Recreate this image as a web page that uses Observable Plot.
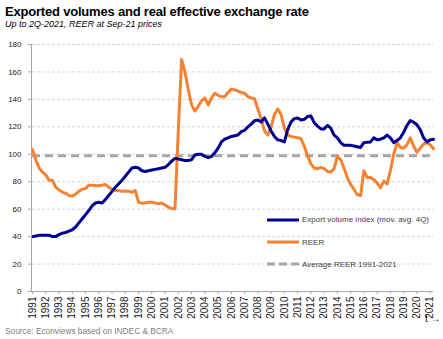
<!DOCTYPE html>
<html><head><meta charset="utf-8">
<script src="https://cdn.jsdelivr.net/npm/d3@7"></script>
<script src="https://cdn.jsdelivr.net/npm/@observablehq/plot@0.6"></script>
<style>
body{margin:0;width:443px;height:339px;background:#fff;font-family:"Liberation Sans",Arial,sans-serif;position:relative;overflow:hidden}
#title{position:absolute;left:5px;top:4px;font-size:13px;font-weight:bold;color:#000;white-space:nowrap;letter-spacing:-0.2px}
#subtitle{position:absolute;left:5px;top:19px;font-size:9px;font-style:italic;color:#000;white-space:nowrap}
#chart{position:absolute;left:0;top:34px}
#source{position:absolute;left:5px;top:326px;font-size:8.3px;color:#808080;white-space:nowrap}
.leg{position:absolute;left:267px;height:12px;font-size:8px;color:#404040;white-space:nowrap;display:flex;align-items:center}
.leg svg{margin-right:3px}
</style></head>
<body>
<div id="title">Exported volumes and real effective exchange rate</div>
<div id="subtitle">Up to 2Q-2021, REER at Sep-21 prices</div>
<div id="chart"></div>
<div id="legend"></div>
<div id="source">Source: Econviews based on INDEC &amp; BCRA</div>
<script>
const startYear = 1991;
const yearTicks = d3.range(1991, 2022);
const yTicks = [0, 20, 40, 60, 80, 100, 120, 140, 160, 180];
const avgReer = 99;

const exportVolume = [
 40, 40.5, 41, 41,
 41, 41, 40, 40,
 41.5, 42.5, 43, 44,
 45, 47, 50, 53,
 56, 59, 62.5, 64.5,
 65, 64.5, 67, 70,
 73, 76, 78.5, 81,
 84, 87, 90, 90.5,
 90, 88, 87.5, 88,
 88.5, 89, 89.5, 90,
 90.5, 92.5, 95, 97,
 96.5, 96, 95.5, 95.5,
 96, 99.5, 100, 100,
 98.5, 97.5, 98.5, 101,
 104.5, 109, 111, 112,
 113, 113.5, 114, 116.5,
 117.5, 120, 122, 124.5,
 125, 123.5, 126.5, 122,
 117, 113, 110.5, 110,
 109, 118, 123.5, 126,
 126.5, 125, 125.5, 127.5,
 128, 123, 120.5, 118.5,
 118.5, 121, 119, 114,
 112, 108.5, 106.5, 106.5,
 106.5, 106, 105.5, 105,
 108.5, 108.8, 109, 112,
 110.5, 111, 112, 114,
 112, 108.5, 110, 112,
 116, 121, 124.5, 123.5,
 121.5, 118, 112, 109,
 110.5, 111
];

const reer = [
 103.5, 96, 90, 87,
 85, 81, 81, 76,
 74, 72.5, 71.5, 70,
 69.5, 71, 73, 74.5,
 75, 77.5, 77.5, 77.2,
 77, 77.5, 78, 76,
 74.5, 73.8, 73.5, 73,
 73.2, 73, 72.4, 73.6,
 65, 64.4, 64.5, 65,
 65, 64.5, 64, 64.5,
 63, 61.5, 60.5, 60.3,
 118, 169, 160, 147,
 136, 131.5, 135, 139,
 141, 136, 141, 144.5,
 143, 142, 142, 145,
 147.5, 147, 146, 145,
 144.5, 142, 141, 140.5,
 133, 126, 117, 114,
 120, 129, 133, 129,
 119, 114, 113, 112.5,
 112, 111.5, 106, 99,
 93, 90, 89.5, 90.5,
 89.5, 87.5, 87, 89.5,
 98.5, 96, 90, 83,
 78, 74.5, 70.5, 70,
 88, 83, 83, 81.5,
 79, 75.5, 80.5, 78.5,
 88, 100, 108.5, 105,
 104.5, 107, 112, 106,
 101.5, 104.5, 107.5, 108.5,
 107, 104
];

const seriesNames = ["Export volume index (mov. avg. 4Q)", "REER", "Average REER 1991-2021"];
const seriesColors = ["#000090", "#f58233", "#a6a6a6"];

const data = exportVolume.map((v, i) => ({t: startYear + i / 4, exp: v, reer: reer[i]}));
const endT = startYear + (exportVolume.length - 1) / 4;

const chart = Plot.plot({
  width: 443, height: 290,
  marginLeft: 32, marginRight: 10, marginTop: 10, marginBottom: 33,
  style: {fontFamily: "'Liberation Sans', Arial, sans-serif", color: "#222", background: "transparent"},
  x: {domain: [startYear, endT], axis: null},
  y: {domain: [0, 180], axis: null},
  marks: [
    Plot.ruleY(yTicks.filter(d => d > 0), {stroke: "#d4d4d4", strokeWidth: 1, strokeDasharray: "3,2"}),
    Plot.ruleY([avgReer], {stroke: seriesColors[2], strokeWidth: 3, strokeDasharray: "8,5"}),
    Plot.line(data, {x: "t", y: "reer", stroke: seriesColors[1], strokeWidth: 3, strokeLinejoin: "round"}),
    Plot.line(data, {x: "t", y: "exp", stroke: seriesColors[0], strokeWidth: 3, strokeLinejoin: "round"}),
    Plot.ruleY([0], {stroke: "#a6a6a6", strokeWidth: 1}),
    Plot.ruleX([startYear], {stroke: "#a6a6a6", strokeWidth: 1, dx: -1}),
    Plot.axisY({ticks: yTicks, tickSize: 4, tickPadding: 7, fontSize: 8, stroke: "#a6a6a6", color: "#222", tickFormat: d => String(d)}),
    Plot.axisX({ticks: yearTicks, tickSize: 3, tickPadding: 2, tickRotate: -90, fontSize: 10, stroke: "#a6a6a6", tickFormat: d => String(d)})
  ]
});
document.getElementById("chart").appendChild(chart);

const legendTop = [213.5, 236, 258];
const legend = document.getElementById("legend");
seriesNames.forEach((name, i) => {
  const row = document.createElement("div");
  row.className = "leg";
  row.style.top = legendTop[i] + "px";
  const dash = i === 2 ? 'stroke-dasharray="8,4"' : '';
  row.innerHTML = `<svg width="32" height="6"><line x1="0" x2="32" y1="3" y2="3" stroke="${seriesColors[i]}" stroke-width="3" ${dash}/></svg><span>${name}</span>`;
  legend.appendChild(row);
});
</script>
</body></html>
